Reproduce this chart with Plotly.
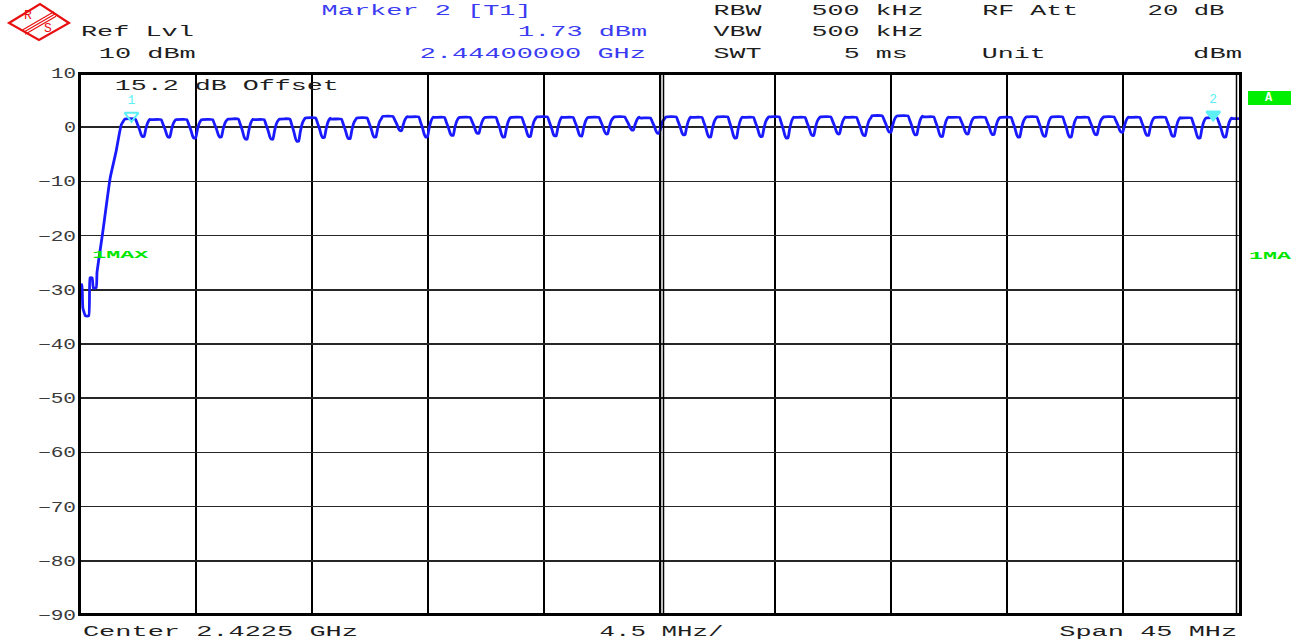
import json
import plotly.graph_objects as go

# ---------------- data ----------------
start_mhz = [2400.00, 2400.08, 2400.11, 2400.21, 2400.34, 2400.39, 2400.47, 2400.52,
             2400.63, 2400.66, 2400.88, 2401.17, 2401.40, 2401.60]
start_dbm = [-31.2, -29.0, -33.3, -34.8, -34.8, -27.8, -27.8, -29.7,
             -29.6, -26.8, -19.5, -9.4, -4.5, 0.4]

channel_mhz = [2402, 2403, 2404, 2405, 2406, 2407, 2408, 2409, 2410, 2411, 2412,
               2413, 2414, 2415, 2416, 2417, 2418, 2419, 2420, 2421, 2422, 2423,
               2424, 2425, 2426, 2427, 2428, 2429, 2430, 2431, 2432, 2433, 2434,
               2435, 2436, 2437, 2438, 2439, 2440, 2441, 2442, 2443, 2444]
peak_dbm = [1.5, 1.4, 1.4, 1.4, 1.5, 1.4, 1.5, 1.7, 1.5, 1.7, 2.0,
            1.9, 1.8, 1.8, 1.8, 1.8, 1.9, 1.8, 1.8, 1.9, 1.7, 1.9,
            1.8, 1.9, 1.8, 1.9, 1.8, 1.9, 1.8, 2.1, 2.1, 1.9, 1.8,
            1.8, 1.8, 1.9, 1.9, 1.8, 1.9, 1.8, 1.8, 1.7, 1.73]
dip_dbm = [-1.7, -1.8, -2.0, -1.8, -2.2, -2.2, -2.6, -1.9, -2.1, -1.8, -0.6,
           -1.8, -1.5, -1.1, -1.8, -1.7, -1.6, -1.6, -1.2, -0.5, -1.1, -1.4,
           -1.8, -2.0, -1.7, -2.0, -1.5, -1.2, -1.5, -0.9, -1.4, -1.7, -1.2,
           -1.35, -1.8, -1.65, -1.8, -1.35, -0.9, -1.5, -1.65, -2.0, -1.8]
end_mhz = [2444.75, 2445.0]
end_dbm = [1.6, 1.6]

marker_mhz = [2402.0, 2444.0]
marker_dbm = [1.5, 1.73]
marker_labels = ["1", "2"]

y_ticks = [10, 0, -10, -20, -30, -40, -50, -60, -70, -80, -90]

header_texts = ["Marker 2 [T1]", "RBW", "500 kHz", "RF Att", "20 dB",
                "Ref Lvl", "1.73 dBm", "VBW", "500 kHz",
                "10 dBm", "2.44400000 GHz", "SWT", "5 ms", "Unit", "dBm",
                "15.2 dB Offset",
                "Center 2.4225 GHz", "4.5 MHz/", "Span 45 MHz"]

# ---------------- layout geometry (pixels) ----------------
W, H = 1306, 642
L, R, T, B = 80, 1239, 73, 615
BLUE_TXT = "#3b3bf2"
DARK = "#1e1e1e"
CYAN = "#5cf0f5"
GREEN = "#00e600"
RED = "#e81010"
FONT = "Liberation Mono"

# (cx, cy, visible width, color)
header_pos = [(426, 11, 208, BLUE_TXT), (738, 11, 46, DARK), (867, 11, 110, DARK),
              (1030, 11, 94, DARK), (1186, 11, 75, DARK),
              (137, 32, 111, DARK), (582, 32, 127, BLUE_TXT), (738, 32, 46, DARK),
              (867, 32, 110, DARK),
              (147, 54, 95, DARK), (533, 54, 224, BLUE_TXT), (738, 54, 46, DARK),
              (876, 54, 62, DARK), (1014, 54, 62, DARK), (1217, 54, 47, DARK),
              (227, 86, 222, DARK),
              (220, 632, 273, DARK), (661, 632, 122, DARK), (1148, 632, 176, DARK)]


def px(x):
    return (x - L) / (R - L)


def py(y):
    return (B - y) / (B - T)


# ---------------- trace ----------------
xs = list(start_mhz)
ys = list(start_dbm)
for c, p, d in zip(channel_mhz, peak_dbm, dip_dbm):
    h = p - d
    xs += [c - 0.25, c + 0.15, c + 0.22, c + 0.30, c + 0.37, c + 0.42,
           c + 0.49, c + 0.55, c + 0.63, c + 0.71]
    ys += [p, p, p - 0.25 * h, p - 0.55 * h, d + 0.12 * h, d,
           d, d + 0.4 * h, p - 0.2 * h, p - 0.05]
xs += end_mhz
ys += end_dbm

fig = go.Figure()
fig.add_trace(go.Scatter(x=xs, y=ys, mode="lines",
                         line=dict(color="#1a1aff", width=2.8, shape="spline", smoothing=0.4),
                         hoverinfo="skip", showlegend=False))

MARK_OFFSET = 0.6
fig.add_trace(go.Scatter(
    x=marker_mhz, y=[v + MARK_OFFSET for v in marker_dbm],
    mode="markers+text", text=marker_labels, textposition="top center",
    textfont=dict(family=FONT, size=13, color=CYAN),
    marker=dict(symbol=["triangle-down-open", "triangle-down"], size=12,
                color=CYAN, line=dict(color=CYAN, width=2)),
    hoverinfo="skip", showlegend=False, cliponaxis=False))

# ---------------- axes ----------------
fig.update_xaxes(range=[2400, 2445], tick0=2400, dtick=4.5, showticklabels=False,
                 showgrid=True, gridcolor="#000000", gridwidth=2, zeroline=False,
                 ticks="", showline=False, fixedrange=True)
fig.update_yaxes(range=[-90, 10], tickvals=y_ticks,
                 ticktext=[str(v) if v >= 0 else "\u2212" + str(-v) for v in y_ticks],
                 showgrid=True, gridcolor="#262626", gridwidth=1.5, zeroline=False,
                 ticks="", showline=False, ticklabelstandoff=3,
                 tickfont=dict(family=FONT, size=14, color="#3a3a3a"), fixedrange=True)

shapes = []
# outer frame
shapes.append(dict(type="rect", xref="paper", yref="paper", x0=px(79.5), x1=px(1240.5),
                   y0=py(614.5), y1=py(73.5), line=dict(color="#000000", width=3)))
# inner right line (double border)
shapes.append(dict(type="line", xref="paper", yref="paper", x0=px(1236.5), x1=px(1236.5),
                   y0=0, y1=1, line=dict(color="#000000", width=1.5)))
# centre double line
for xx in (660.5, 663.5):
    shapes.append(dict(type="line", xref="paper", yref="paper", x0=px(xx), x1=px(xx),
                       y0=0, y1=1, line=dict(color="#000000", width=1.5)))
# R&S logo
dia = [(9, 23), (40, 4), (69, 23), (39, 40)]
path = "M " + " L ".join(f"{px(a):.5f},{py(b):.5f}" for a, b in dia) + " Z"
shapes.append(dict(type="path", xref="paper", yref="paper", path=path,
                   line=dict(color=RED, width=2.2)))
for off in (-2.2, 0, 2.2):
    shapes.append(dict(type="line", xref="paper", yref="paper",
                       x0=px(24 + off * 0.5), y0=py(32 + off), x1=px(55 + off * 0.5), y1=py(14 + off),
                       line=dict(color=RED, width=1.2)))
# green "A" box
shapes.append(dict(type="rect", xref="paper", yref="paper", x0=px(1248), x1=px(1291),
                   y0=py(105), y1=py(91), fillcolor="#00ee00", line=dict(width=0)))

annotations = []
targets = []
for txt, (cx, cy, w, col) in zip(header_texts, header_pos):
    annotations.append(dict(text=txt, x=px(cx), y=py(cy), xref="paper", yref="paper",
                            xanchor="center", yanchor="middle", showarrow=False,
                            font=dict(family=FONT, size=14, color=col)))
    targets.append(w + 2)

extra = [("R", 28, 16, RED, 13, None), ("S", 48, 29, RED, 13, None),
         ("<b>1MAX</b>", 120, 255, GREEN, 11, 56), ("<b>1MA</b>", 1270, 256, GREEN, 11, 42),
         ("<b>A</b>", 1269, 98, "#ffffff", 12, None)]
for txt, cx, cy, col, sz, w in extra:
    annotations.append(dict(text=txt, x=px(cx), y=py(cy), xref="paper", yref="paper",
                            xanchor="center", yanchor="middle", showarrow=False,
                            font=dict(family=FONT, size=sz, color=col)))
    targets.append(w)

fig.update_layout(width=W, height=H, margin=dict(l=L, r=W - R, t=T, b=H - B, pad=0),
                  paper_bgcolor="#ffffff", plot_bgcolor="#ffffff",
                  shapes=shapes, annotations=annotations, showlegend=False,
                  font=dict(family=FONT, color=DARK))

post = """
(function(){
  document.documentElement.style.margin = '0';
  document.body.style.margin = '0';
  document.body.style.padding = '0';
  document.body.style.overflow = 'hidden';
  var gd = document.getElementById('{plot_id}');
  var targets = %s;
  function fix(){
    gd.querySelectorAll('g.annotation').forEach(function(g){
      var i = +g.getAttribute('data-index');
      var w = targets[i];
      if (!w) return;
      var t = g.querySelector('text.annotation-text');
      if (!t) return;
      t.setAttribute('textLength', w);
      t.setAttribute('lengthAdjust', 'spacingAndGlyphs');
    });
    gd.querySelectorAll('g.ytick text').forEach(function(t){
      var n = (t.textContent || '').length;
      t.setAttribute('textLength', n * 13 - 1);
      t.setAttribute('lengthAdjust', 'spacingAndGlyphs');
    });
  }
  fix();
  if (gd.on) gd.on('plotly_afterplot', fix);
})();
""" % json.dumps(targets)

fig.write_html("out.html", post_script=post, config={"staticPlot": True})
